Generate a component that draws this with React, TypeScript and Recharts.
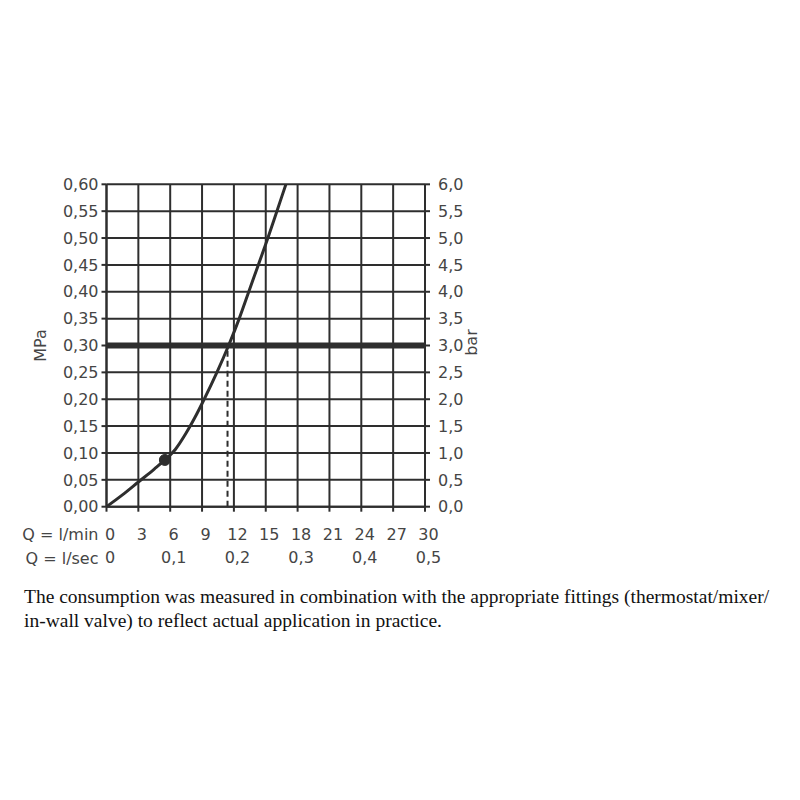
import React from 'react';
import {
  ComposedChart,
  Line,
  XAxis,
  YAxis,
  CartesianGrid,
  ReferenceLine,
  ReferenceDot,
  Label,
} from 'recharts';

// Flow rate (l/min) and pressure (MPa)
const flowLpm = [0, 1.5, 3, 4.5, 5.5, 6.5, 7.5, 8.3, 9.2, 10.4, 11.5, 12.5, 13.4, 14.3, 15.2, 16.05, 16.9];
const pressureMPa = [0, 0.022, 0.046, 0.07, 0.087, 0.107, 0.137, 0.165, 0.2, 0.25, 0.3, 0.35, 0.4, 0.45, 0.5, 0.55, 0.6];

// Highlighted point and operating pressure
const markerFlow = 5.5;
const markerPressure = 0.087;
const operatingPressure = 0.3;
const operatingFlow = 11.4;

// Axis ticks
const lpmTicks = [0, 3, 6, 9, 12, 15, 18, 21, 24, 27, 30];
const lsecTicks = [0, 0.1, 0.2, 0.3, 0.4, 0.5];
const mpaTicks = [0, 0.05, 0.1, 0.15, 0.2, 0.25, 0.3, 0.35, 0.4, 0.45, 0.5, 0.55, 0.6];
const barTicks = [0, 0.5, 1, 1.5, 2, 2.5, 3, 3.5, 4, 4.5, 5, 5.5, 6];

const footerLines = [
  'The consumption was measured in combination with the appropriate fittings (thermostat/mixer/',
  'in-wall valve) to reflect actual application in practice.',
];

const data = flowLpm.map((f, i) => ({ flow: f, flowSec: f / 60, p: pressureMPa[i] }));

const INK = '#2e2e2e';
const TXT = '#454545';
const FONT = 'DejaVu Sans';
const tickStyle = { fontFamily: FONT, fontSize: 16, fill: TXT };
const xTickStyle = { ...tickStyle, dx: 3.5 };

const comma = (v: number, d: number) => v.toFixed(d).replace('.', ',');

const mpaLabel = (props: any) => {
  const { x, y, height } = props.viewBox;
  const cx = x + 38;
  const cy = y + height / 2;
  return (
    <text x={cx} y={cy} transform={`rotate(-90 ${cx} ${cy})`} textAnchor="middle" fontFamily={FONT} fontSize={16} fill={TXT}>
      MPa
    </text>
  );
};

const barLabel = (props: any) => {
  const { x, y, height } = props.viewBox;
  const cx = x + 52;
  const cy = y + height / 2 - 3;
  return (
    <text x={cx} y={cy} transform={`rotate(-90 ${cx} ${cy})`} textAnchor="middle" fontFamily={FONT} fontSize={16} fill={TXT}>
      bar
    </text>
  );
};

const lpmLabel = (props: any) => {
  const { x, y } = props.viewBox;
  return (
    <text x={x - 8} y={y + 33.5} textAnchor="end" fontFamily={FONT} fontSize={16} fill={TXT}>
      Q = l/min
    </text>
  );
};

const lsecLabel = (props: any) => {
  const { x, y } = props.viewBox;
  return (
    <text x={x - 8} y={y + 27.5} textAnchor="end" fontFamily={FONT} fontSize={16} fill={TXT}>
      Q = l/sec
    </text>
  );
};

export default function App() {
  return (
    <div style={{ width: 784 }}>
      <ComposedChart
        width={784}
        height={577}
        data={data}
        margin={{ top: 176.3, left: 0, right: 307, bottom: 18.3 }}
      >
        <CartesianGrid stroke={INK} strokeWidth={2} strokeOpacity={1} />
        <XAxis
          dataKey="flow"
          type="number"
          domain={[0, 30]}
          ticks={lpmTicks}
          allowDataOverflow
          height={30}
          tickSize={5}
          tickMargin={17}
          tick={xTickStyle}
          axisLine={{ stroke: INK, strokeWidth: 2 }}
          tickLine={{ stroke: INK, strokeWidth: 2 }}
          interval={0}
        >
          <Label content={lpmLabel} />
        </XAxis>
        <XAxis
          xAxisId="sec"
          dataKey="flowSec"
          type="number"
          domain={[0, 0.5]}
          ticks={lsecTicks}
          allowDataOverflow
          height={30}
          tickSize={0}
          tickMargin={15}
          tick={xTickStyle}
          tickFormatter={(v: number) => (v === 0 ? '0' : comma(v, 1))}
          axisLine={false}
          tickLine={false}
          interval={0}
        >
          <Label content={lsecLabel} />
        </XAxis>
        <YAxis
          type="number"
          domain={[0, 0.6]}
          ticks={mpaTicks}
          allowDataOverflow
          width={98.5}
          tickSize={5}
          tickMargin={3}
          tick={tickStyle}
          tickFormatter={(v: number) => comma(v, 2)}
          axisLine={{ stroke: INK, strokeWidth: 2 }}
          tickLine={{ stroke: INK, strokeWidth: 2 }}
          interval={0}
        >
          <Label content={mpaLabel} />
        </YAxis>
        <YAxis
          yAxisId="bar"
          orientation="right"
          type="number"
          domain={[0, 6]}
          ticks={barTicks}
          allowDataOverflow
          width={60}
          tickSize={5}
          tickMargin={8}
          tick={{ ...tickStyle, textAnchor: 'start' }}
          tickFormatter={(v: number) => comma(v, 1)}
          axisLine={{ stroke: INK, strokeWidth: 2 }}
          tickLine={{ stroke: INK, strokeWidth: 2 }}
          interval={0}
        >
          <Label content={barLabel} />
        </YAxis>
        <ReferenceLine
          segment={[
            { x: operatingFlow, y: 0 },
            { x: operatingFlow, y: operatingPressure },
          ]}
          stroke={INK}
          strokeWidth={2}
          strokeDasharray="6 4"
        />
        <ReferenceLine y={operatingPressure} stroke={INK} strokeWidth={6} />
        <Line
          type="monotone"
          dataKey="p"
          stroke={INK}
          strokeWidth={3}
          dot={false}
          activeDot={false}
          isAnimationActive={false}
        />
        <ReferenceDot x={markerFlow} y={markerPressure} r={5.5} fill={INK} stroke={INK} strokeWidth={1} />
      </ComposedChart>
      <div
        style={{
          fontFamily: '"Liberation Serif", "Times New Roman", serif',
          fontSize: 19.5,
          lineHeight: '24px',
          color: '#111',
          paddingLeft: 16,
          whiteSpace: 'nowrap',
        }}
      >
        {footerLines.map((l, i) => (
          <div key={i}>{l}</div>
        ))}
      </div>
    </div>
  );
}
